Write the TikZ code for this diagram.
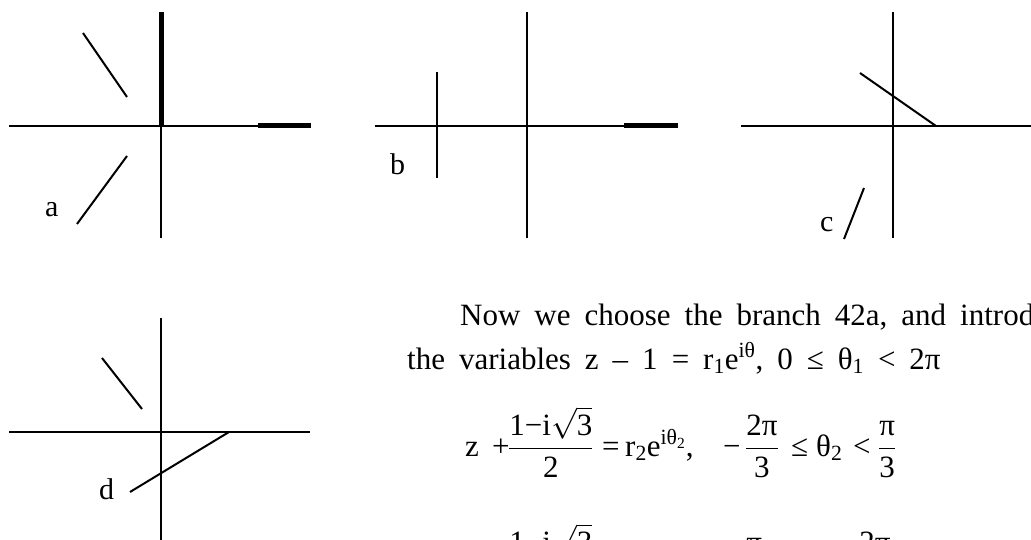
\RequirePackage{fix-cm}
\documentclass[tikz,border=0pt]{standalone}
\usepackage{amsmath}
\usepackage{fontspec}
\setmainfont{Liberation Serif}
\begin{document}
\begin{tikzpicture}[x=1pt,y=-1pt,
  ax/.style={line width=2pt},
  cutl/.style={line width=5pt},
  txt/.style={font=\fontsize{31}{37}\selectfont, inner sep=0pt, anchor=base west},
  lbl/.style={font=\fontsize{30}{36}\selectfont, inner sep=0pt, anchor=base west}]
\useasboundingbox (0,0) rectangle (1031,540);
\clip (0,0) rectangle (1031,540);

% ---------- panel a ----------
\coordinate (aL) at (9,126);   \coordinate (aR) at (311,126);
\coordinate (aK) at (258,126); \coordinate (aO) at (161,126);
\coordinate (aT) at (161,12);  \coordinate (aB) at (161,238);
\coordinate (a1s) at (83,33);  \coordinate (a1e) at (127,97);
\coordinate (a2s) at (127,156);\coordinate (a2e) at (77,224);
\draw[ax] (aL) -- (aR);
\draw[ax] (aT) -- (aB);
\draw[cutl] (aK) -- (aR);
\draw[cutl] (aT) -- (aO);
\draw[ax] (a1s) -- (a1e);
\draw[ax] (a2s) -- (a2e);
\node[lbl] (la) at (45,217) {a};

% ---------- panel b ----------
\coordinate (bL) at (375,126); \coordinate (bR) at (678,126);
\coordinate (bK) at (624,126);
\coordinate (bT) at (527,12);  \coordinate (bB) at (527,238);
\coordinate (b1s) at (437,72); \coordinate (b1e) at (437,178);
\draw[ax] (bL) -- (bR);
\draw[ax] (bT) -- (bB);
\draw[cutl] (bK) -- (bR);
\draw[ax] (b1s) -- (b1e);
\node[lbl] (lb) at (390,175) {b};

% ---------- panel c ----------
\coordinate (cL) at (741,126); \coordinate (cR) at (1035,126);
\coordinate (cT) at (893,12);  \coordinate (cB) at (893,238);
\coordinate (c1s) at (860,73); \coordinate (c1e) at (936,126);
\coordinate (c2s) at (864,188);\coordinate (c2e) at (844,239);
\draw[ax] (cL) -- (cR);
\draw[ax] (cT) -- (cB);
\draw[ax] (c1s) -- (c1e);
\draw[ax] (c2s) -- (c2e);
\node[lbl] (lc) at (820,232) {c};

% ---------- panel d ----------
\coordinate (dL) at (9,432);   \coordinate (dR) at (310,432);
\coordinate (dT) at (161,318); \coordinate (dB) at (161,542);
\coordinate (d1s) at (102,358);\coordinate (d1e) at (142,409);
\coordinate (d2s) at (229,432);\coordinate (d2e) at (130,492);
\draw[ax] (dL) -- (dR);
\draw[ax] (dT) -- (dB);
\draw[ax] (d1s) -- (d1e);
\draw[ax] (d2s) -- (d2e);
\node[lbl] (ld) at (99,499) {d};

% ---------- text ----------
\node[txt] (line1) at (460,325) {\spaceskip=14pt Now we choose the branch 42a, and introd};
\node[txt] (line2) at (407,369) {\spaceskip=14pt the variables z – 1 = r\textsubscript{1}e\textsuperscript{iθ}, 0 ≤ θ\textsubscript{1} < 2π};

% equation 1
\node[txt] (e1z)  at (465,456) {z};
\node[txt] (e1p)  at (492,456) {+};
\node[txt] (e1f)  at (508,456) {$\dfrac{\text{1−i}\sqrt{\text{3}}}{\text{2}}$};
\node[txt] (e1eq) at (602,456) {=};
\node[txt] (e1r)  at (625,456) {$\text{r}_{\text{2}}\text{e}^{\text{iθ}_{\text{2}}}$,};
\node[txt] (e1m)  at (723,456) {−};
\node[txt] (e1g)  at (745,456) {$\dfrac{\text{2π}}{\text{3}}$};
\node[txt] (e1le) at (791,456) {≤};
\node[txt] (e1t)  at (816,456) {$\text{θ}_{\text{2}}$};
\node[txt] (e1lt) at (853,456) {<};
\node[txt] (e1h)  at (878,456) {$\dfrac{\text{π}}{\text{3}}$};

% equation 2 (cut by the lower edge)
\node[txt] (e2z)  at (465,573) {z};
\node[txt] (e2p)  at (492,573) {+};
\node[txt] (e2f)  at (508,573) {$\dfrac{\text{1−i}\sqrt{\text{3}}}{\text{2}}$};
\node[txt] (e2eq) at (602,573) {=};
\node[txt] (e2r)  at (625,573) {$\text{r}_{\text{3}}\text{e}^{\text{iθ}_{\text{3}}}$,};
\node[txt] (e2m)  at (723,573) {−};
\node[txt] (e2g)  at (745,573) {$\dfrac{\text{π}}{\text{3}}$};
\node[txt] (e2le) at (770,573) {≤};
\node[txt] (e2t)  at (795,573) {$\text{θ}_{\text{3}}$};
\node[txt] (e2lt) at (832,573) {<};
\node[txt] (e2h)  at (858,573) {$\dfrac{\text{2π}}{\text{3}}$};
\end{tikzpicture}
\end{document}
